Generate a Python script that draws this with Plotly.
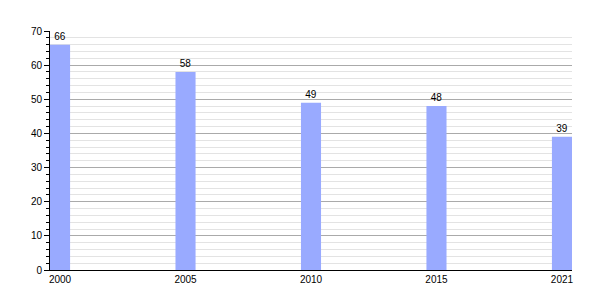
import plotly.graph_objects as go

years = ["2000", "2005", "2010", "2015", "2021"]
values = [66, 58, 49, 48, 39]
y_ticks = [0, 10, 20, 30, 40, 50, 60, 70]

xpos = list(range(len(years)))

fig = go.Figure(go.Bar(
    x=xpos, y=values, width=0.16,
    marker=dict(color="#99aaff", line=dict(width=0)),
    text=[str(v) for v in values], textposition="outside",
    textfont=dict(family="Liberation Sans, Arial", size=10, color="#000"),
    cliponaxis=False,
))

fig.update_layout(
    width=600, height=300,
    margin=dict(l=50, r=28, t=31, b=30),
    plot_bgcolor="white", paper_bgcolor="white",
    showlegend=False,
    font=dict(family="Liberation Sans, Arial", size=11, color="#000"),
    xaxis=dict(
        range=[-0.08, len(years) - 1 + 0.08],
        tickvals=xpos, ticktext=years,
        showgrid=False, zeroline=False,
        showline=True, linecolor="#000", linewidth=1,
        ticks="", tickfont=dict(size=10),
    ),
    yaxis=dict(
        range=[0, 70], tickvals=y_ticks,
        showgrid=True, gridcolor="#aaaaaa", gridwidth=1,
        zeroline=False,
        showline=True, linecolor="#000", linewidth=1,
        ticks="outside", ticklen=5, tickcolor="#000",
        tickfont=dict(size=10),
        minor=dict(dtick=2, showgrid=True, gridcolor="#e3e3e3",
                   ticks="outside", ticklen=3, tickcolor="#000"),
    ),
)

fig.write_html("out.html")
